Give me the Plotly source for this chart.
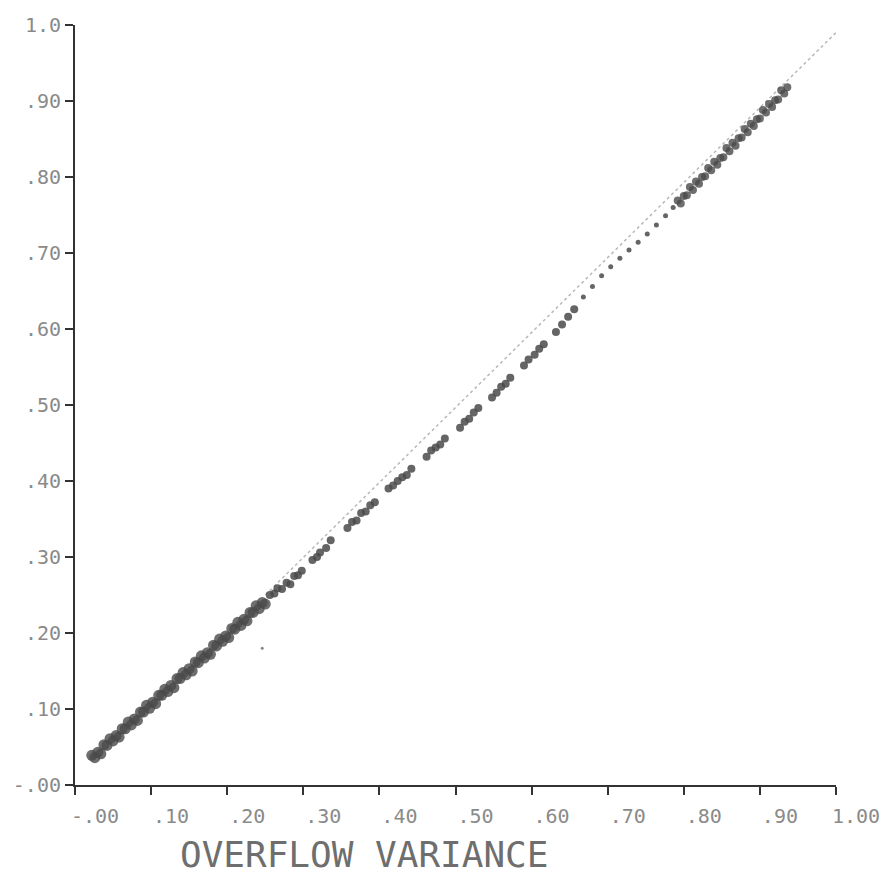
import plotly.graph_objects as go

# Dense lower band of observations
band_low_x = [0.022, 0.026, 0.030, 0.034, 0.038, 0.042, 0.046, 0.050, 0.054, 0.058,
              0.062, 0.066, 0.070, 0.074, 0.078, 0.082, 0.086, 0.090, 0.094, 0.098,
              0.102, 0.106, 0.110, 0.114, 0.118, 0.122, 0.126, 0.130, 0.134, 0.138,
              0.142, 0.146, 0.150, 0.154, 0.158, 0.162, 0.166, 0.170, 0.174, 0.178,
              0.182, 0.186, 0.190, 0.194, 0.198, 0.202, 0.206, 0.210, 0.214, 0.218,
              0.222, 0.226, 0.230, 0.234, 0.238, 0.242, 0.246, 0.250]
band_low_y = [0.039, 0.036, 0.043, 0.041, 0.053, 0.052, 0.061, 0.058, 0.065, 0.063,
              0.074, 0.074, 0.083, 0.079, 0.087, 0.085, 0.096, 0.096, 0.105, 0.101,
              0.109, 0.107, 0.118, 0.118, 0.126, 0.123, 0.131, 0.128, 0.140, 0.140,
              0.148, 0.145, 0.153, 0.150, 0.162, 0.161, 0.170, 0.167, 0.174, 0.172,
              0.184, 0.183, 0.192, 0.189, 0.196, 0.194, 0.206, 0.205, 0.214, 0.210,
              0.218, 0.216, 0.227, 0.227, 0.236, 0.232, 0.240, 0.238]

# Clustered observations in the middle range
clump_x = [0.256, 0.262, 0.266, 0.272, 0.278, 0.283, 0.288, 0.293, 0.298,
           0.312, 0.318, 0.322, 0.330, 0.336,
           0.358, 0.364, 0.370, 0.376, 0.382, 0.388, 0.394,
           0.412, 0.418, 0.424, 0.430, 0.436, 0.442,
           0.462, 0.468, 0.474, 0.480, 0.486,
           0.506, 0.512, 0.518, 0.524, 0.530,
           0.548, 0.554, 0.560, 0.566, 0.572,
           0.590, 0.596, 0.604, 0.610, 0.616,
           0.632, 0.640, 0.648, 0.656]
clump_y = [0.250, 0.252, 0.259, 0.258, 0.266, 0.264, 0.275, 0.276, 0.282,
           0.296, 0.300, 0.306, 0.312, 0.322,
           0.338, 0.346, 0.348, 0.358, 0.360, 0.368, 0.372,
           0.390, 0.394, 0.400, 0.405, 0.408, 0.416,
           0.432, 0.440, 0.444, 0.448, 0.456,
           0.470, 0.478, 0.482, 0.490, 0.496,
           0.510, 0.516, 0.524, 0.528, 0.536,
           0.552, 0.560, 0.566, 0.574, 0.580,
           0.596, 0.606, 0.616, 0.626]

# Sparse run of single observations
sparse_x = [0.668, 0.680, 0.692, 0.704, 0.716, 0.728, 0.740, 0.752, 0.764, 0.776, 0.786]
sparse_y = [0.642, 0.656, 0.670, 0.682, 0.693, 0.704, 0.714, 0.725, 0.737, 0.749, 0.760]

# Dense upper band
band_high_x = [0.792, 0.796, 0.800, 0.804, 0.808, 0.812, 0.816, 0.820, 0.824, 0.828,
               0.832, 0.836, 0.840, 0.844, 0.848, 0.852, 0.856, 0.860, 0.864, 0.868,
               0.872, 0.876, 0.880, 0.884, 0.888, 0.892, 0.896, 0.900, 0.904, 0.908,
               0.912, 0.916, 0.920, 0.924, 0.928, 0.932, 0.936]
band_high_y = [0.769, 0.765, 0.775, 0.776, 0.787, 0.783, 0.794, 0.791, 0.800, 0.801,
               0.812, 0.809, 0.820, 0.816, 0.825, 0.826, 0.838, 0.834, 0.845, 0.841,
               0.851, 0.852, 0.863, 0.859, 0.870, 0.867, 0.876, 0.877, 0.888, 0.885,
               0.896, 0.892, 0.901, 0.902, 0.914, 0.910, 0.918]

# Stray observation
stray_x = [0.246]
stray_y = [0.180]

# Equality reference line
ref_x = [0.25, 1.00]
ref_y = [0.25, 0.99]

tick_vals = [0.0, 0.1, 0.2, 0.3, 0.4, 0.5, 0.6, 0.7, 0.8, 0.9, 1.0]
x_tick_text = ["-.00", ".10", ".20", ".30", ".40", ".50", ".60", ".70", ".80", ".90", "1.00"]
y_tick_text = ["-.00", ".10", ".20", ".30", ".40", ".50", ".60", ".70", ".80", ".90", "1.0"]

x_title = "OVERFLOW VARIANCE"

ink = "#4a4a4a"
label_grey = "#8a8a8a"
mono = "DejaVu Sans Mono"

fig = go.Figure()

fig.add_trace(go.Scatter(
    x=ref_x, y=ref_y, mode="lines",
    line=dict(color="#b8b8b8", width=1.5, dash="dot"),
    hoverinfo="skip", showlegend=False,
))
fig.add_trace(go.Scatter(
    x=band_low_x, y=band_low_y, mode="markers",
    marker=dict(color=ink, size=11, opacity=0.8, line=dict(width=0)),
    showlegend=False,
))
fig.add_trace(go.Scatter(
    x=clump_x, y=clump_y, mode="markers",
    marker=dict(color=ink, size=8, opacity=0.85, line=dict(width=0)),
    showlegend=False,
))
fig.add_trace(go.Scatter(
    x=sparse_x, y=sparse_y, mode="markers",
    marker=dict(color=ink, size=5, opacity=0.85, line=dict(width=0)),
    showlegend=False,
))
fig.add_trace(go.Scatter(
    x=band_high_x, y=band_high_y, mode="markers",
    marker=dict(color=ink, size=8, opacity=0.8, line=dict(width=0)),
    showlegend=False,
))
fig.add_trace(go.Scatter(
    x=stray_x, y=stray_y, mode="markers",
    marker=dict(color="#888888", size=3, line=dict(width=0)),
    showlegend=False,
))

axis_common = dict(
    range=[0, 1],
    tickmode="array",
    tickvals=tick_vals,
    showgrid=False,
    zeroline=False,
    showline=True,
    linecolor="#333333",
    linewidth=2,
    ticks="outside",
    ticklen=8,
    tickwidth=2,
    tickcolor="#333333",
    tickfont=dict(family=mono, size=20, color=label_grey),
    fixedrange=True,
)

fig.update_xaxes(ticktext=x_tick_text, ticklabelshift=20, ticklabelstandoff=4,
                 **axis_common)
fig.update_yaxes(ticktext=y_tick_text, ticklabelstandoff=0, **axis_common)

fig.add_annotation(
    text=x_title, xref="paper", yref="paper",
    x=0.38, y=-0.092, xanchor="center", yanchor="middle",
    showarrow=False,
    font=dict(family=mono, size=36, color="#6e6e6e"),
)

fig.update_layout(
    width=891, height=876,
    margin=dict(l=75, r=55, t=25, b=91),
    paper_bgcolor="white",
    plot_bgcolor="white",
)

fig.write_html("out.html")
